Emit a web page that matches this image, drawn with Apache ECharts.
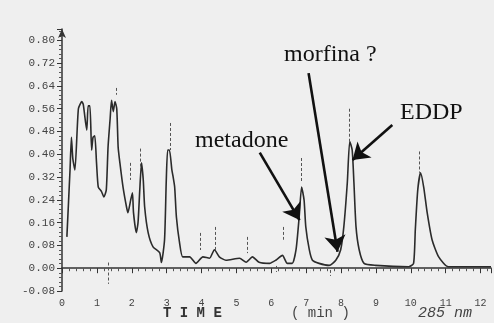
<!DOCTYPE html>
<html>
<head>
<meta charset="utf-8">
<script src="https://cdn.jsdelivr.net/npm/echarts@6/dist/echarts.min.js"></script>
<style>
  html, body { margin: 0; padding: 0; background: #efefef; }
  #chart { width: 494px; height: 323px; }
</style>
</head>
<body>
<div id="chart"></div>
<script>
// retention time (min) and detector response (AU)
const times = [0.14, 0.23, 0.27, 0.31, 0.37, 0.47, 0.57, 0.61, 0.71, 0.75, 0.80, 0.85, 0.89, 0.94, 0.99,
  1.04, 1.13, 1.20, 1.27, 1.32, 1.38, 1.42, 1.47, 1.52, 1.57, 1.61, 1.66, 1.75, 1.85, 1.89, 1.97,
  2.02, 2.05, 2.13, 2.18, 2.23, 2.28, 2.33, 2.37, 2.47, 2.61, 2.80, 2.85, 2.94, 2.99, 3.03, 3.08,
  3.15, 3.18, 3.23, 3.28, 3.37, 3.46, 3.66, 3.84, 4.04, 4.23, 4.37, 4.51, 4.70, 5.09, 5.28, 5.46,
  5.65, 5.95, 6.13, 6.32, 6.46, 6.60, 6.71, 6.80, 6.87, 6.94, 6.99, 7.09, 7.18, 7.37, 7.66, 7.85,
  7.99, 8.08, 8.18, 8.25, 8.32, 8.37, 8.43, 8.52, 8.66, 8.99, 9.94, 10.08, 10.13, 10.20, 10.28,
  10.37, 10.47, 10.61, 10.80, 11.08, 12.30];
const absorbance = [0.11, 0.345, 0.46, 0.385, 0.345, 0.56, 0.585, 0.575, 0.485, 0.57, 0.57, 0.415, 0.46, 0.465, 0.37,
  0.285, 0.27, 0.25, 0.275, 0.425, 0.525, 0.59, 0.55, 0.585, 0.56, 0.425, 0.37, 0.285, 0.215, 0.195, 0.24,
  0.265, 0.195, 0.125, 0.16, 0.275, 0.37, 0.31, 0.215, 0.125, 0.075, 0.055, 0.02, 0.10, 0.31, 0.415, 0.415,
  0.345, 0.325, 0.285, 0.18, 0.09, 0.04, 0.04, 0.017, 0.04, 0.035, 0.065, 0.04, 0.028, 0.035, 0.021, 0.04,
  0.021, 0.017, 0.028, 0.045, 0.017, 0.017, 0.065, 0.18, 0.285, 0.24, 0.145, 0.065, 0.028, 0.017, 0.01, 0.028,
  0.065, 0.145, 0.30, 0.445, 0.415, 0.30, 0.145, 0.065, 0.017, 0.01, 0.005, 0.017, 0.135, 0.275, 0.335,
  0.285, 0.195, 0.10, 0.04, 0.005, 0.005];

// integrator peak marks (time, top, bottom)
const markTimes = [1.33, 1.55, 1.95, 2.24, 3.09, 3.95, 4.38, 5.32, 6.15, 6.33, 6.86, 7.69, 8.24, 10.23];
const markTop = [0.02, 0.633, 0.37, 0.42, 0.51, 0.124, 0.145, 0.11, 0.008, 0.145, 0.387, -0.006, 0.56, 0.41];
const markBottom = [-0.055, 0.609, 0.31, 0.345, 0.415, 0.064, 0.064, 0.053, -0.013, 0.10, 0.30, -0.027, 0.44, 0.335];

// annotation arrows: [fromTime, fromValue, toTime, toValue]
const arrowMetadone = [5.67, 0.406, 6.81, 0.169];
const arrowMorfina = [7.07, 0.685, 7.90, 0.058];
const arrowEddp = [9.47, 0.503, 8.33, 0.38];

const chart = echarts.init(document.getElementById("chart"));

const trace = times.map((t, i) => [t, absorbance[i]]);
const marks = markTimes.map((t, i) => [{ coord: [t, markTop[i]] }, { coord: [t, markBottom[i]] }]);
const arrows = [arrowMetadone, arrowMorfina, arrowEddp].map((a) => [
  { coord: [a[0], a[1]] },
  { coord: [a[2], a[3]] },
]);

const option = {
  backgroundColor: "#efefef",
  animation: false,
  grid: { left: 62, right: 2, top: 29, bottom: 32 },
  xAxis: {
    type: "value",
    min: 0,
    max: 12.3,
    interval: 1,
    axisLine: { lineStyle: { color: "#333", width: 1.5 } },
    axisTick: { length: 5, lineStyle: { color: "#333" } },
    minorTick: { show: true, splitNumber: 5, length: 3, lineStyle: { color: "#555" } },
    splitLine: { show: false },
    axisLabel: {
      color: "#444",
      fontFamily: "Liberation Mono",
      fontSize: 10,
      margin: 7,
      formatter: (v) => (v > 12.05 ? "" : String(v)),
    },
  },
  yAxis: {
    type: "value",
    min: -0.08,
    max: 0.84,
    interval: 0.08,
    axisLine: {
      show: true,
      symbol: ["none", "arrow"],
      symbolSize: [6, 9],
      lineStyle: { color: "#333", width: 1.5 },
    },
    axisTick: { show: true, length: 5, lineStyle: { color: "#333" } },
    minorTick: { show: true, splitNumber: 5, length: 3, lineStyle: { color: "#555" } },
    splitLine: { show: false },
    axisLabel: {
      color: "#444",
      fontFamily: "Liberation Mono",
      fontSize: 11,
      margin: 7,
      formatter: (v) => (v > 0.81 ? "" : v.toFixed(2)),
    },
  },
  series: [
    {
      name: "285 nm",
      type: "line",
      data: trace,
      showSymbol: false,
      smooth: 0.2,
      lineStyle: { color: "#2b2b2b", width: 1.6 },
      markLine: {
        silent: true,
        symbol: "none",
        label: { show: false },
        lineStyle: { color: "#555", width: 1, type: [3, 2] },
        data: marks,
      },
    },
    {
      name: "arrows",
      type: "line",
      data: [],
      markLine: {
        silent: true,
        symbol: ["none", "arrow"],
        symbolSize: 16,
        label: { show: false },
        lineStyle: { color: "#111", width: 2.6, type: "solid" },
        data: arrows,
      },
    },
  ],
  graphic: [
    { type: "text", x: 195, y: 141, style: { text: "metadone", font: "24px 'Liberation Serif'", fill: "#111", verticalAlign: "middle" } },
    { type: "text", x: 284, y: 55, style: { text: "morfina ?", font: "24px 'Liberation Serif'", fill: "#111", verticalAlign: "middle" } },
    { type: "text", x: 400, y: 113, style: { text: "EDDP", font: "24px 'Liberation Serif'", fill: "#111", verticalAlign: "middle" } },
    { type: "text", x: 163, y: 313, style: { text: "T I M E", font: "bold 14px 'Liberation Mono'", fill: "#333", verticalAlign: "middle" } },
    { type: "text", x: 291, y: 313, style: { text: "( min )", font: "14px 'Liberation Mono'", fill: "#444", verticalAlign: "middle" } },
    { type: "text", x: 418, y: 313, style: { text: "285 nm", font: "italic 15px 'Liberation Mono'", fill: "#444", verticalAlign: "middle" } },
  ],
};

option && chart.setOption(option);
</script>
</body>
</html>
